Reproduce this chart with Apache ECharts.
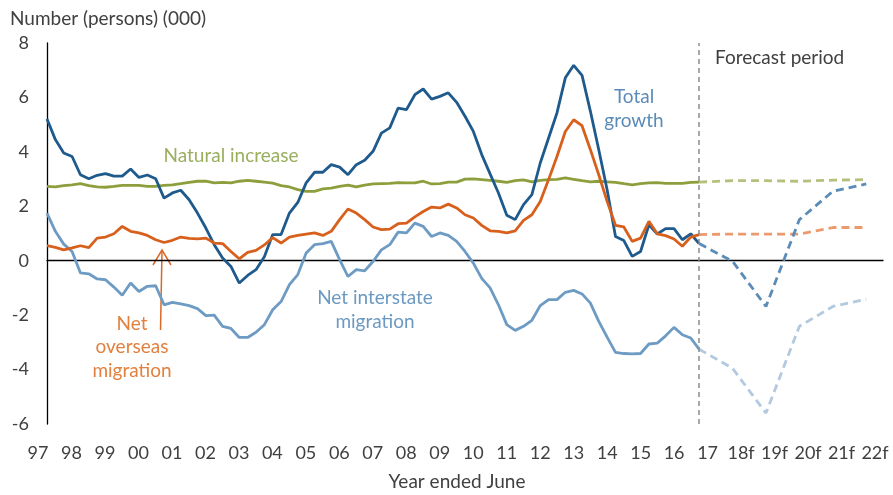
<!DOCTYPE html>
<html>
<head>
<meta charset="utf-8">
<title>Components of population growth</title>
<script src="https://cdn.jsdelivr.net/npm/echarts@6/dist/echarts.min.js"></script>
<style>
  html, body { margin: 0; padding: 0; background: #fff; }
  #chart { width: 893px; height: 495px; }
</style>
</head>
<body>
<div id="chart"></div>
<script>
// quarterly history up to year ended June 2017, '000 persons
const totalGrowth = [
  5.21, 4.45, 3.96, 3.83, 3.16, 3.01, 3.14, 3.20, 3.11, 3.11,
  3.37, 3.06, 3.15, 3.01, 2.30, 2.49, 2.59, 2.24, 1.75, 1.20,
  0.59, 0.10, -0.21, -0.82, -0.54, -0.33, 0.15, 0.96, 0.96, 1.75,
  2.14, 2.86, 3.25, 3.25, 3.53, 3.44, 3.16, 3.53, 3.69, 4.02,
  4.69, 4.88, 5.61, 5.55, 6.10, 6.31, 5.94, 6.04, 6.17, 5.82,
  5.31, 4.75, 3.90, 3.19, 2.49, 1.67, 1.51, 2.06, 2.43, 3.59,
  4.51, 5.43, 6.72, 7.18, 6.81, 5.49, 4.08, 2.61, 0.89, 0.74,
  0.16, 0.34, 1.32, 0.98, 1.18, 1.18, 0.77, 0.99, 0.63
];
const netOverseas = [
  0.55, 0.49, 0.40, 0.47, 0.55, 0.48, 0.83, 0.87, 0.99, 1.26,
  1.08, 1.02, 0.93, 0.77, 0.67, 0.75, 0.87, 0.82, 0.80, 0.83,
  0.65, 0.63, 0.34, 0.07, 0.31, 0.38, 0.58, 0.85, 0.65, 0.87,
  0.93, 0.98, 1.02, 0.93, 1.08, 1.51, 1.90, 1.75, 1.51, 1.24,
  1.14, 1.16, 1.36, 1.38, 1.61, 1.81, 1.97, 1.94, 2.08, 1.94,
  1.69, 1.57, 1.30, 1.10, 1.08, 1.02, 1.10, 1.48, 1.69, 2.18,
  2.98, 3.83, 4.75, 5.18, 4.96, 4.08, 3.16, 2.18, 1.30, 1.24,
  0.71, 0.83, 1.45, 0.99, 0.92, 0.80, 0.53, 0.87, 0.96
];
const naturalIncrease = [
  2.73, 2.71, 2.76, 2.79, 2.83, 2.76, 2.71, 2.70, 2.73, 2.77,
  2.77, 2.77, 2.73, 2.73, 2.77, 2.79, 2.83, 2.88, 2.92, 2.92,
  2.86, 2.88, 2.86, 2.92, 2.95, 2.92, 2.89, 2.85, 2.76, 2.71,
  2.61, 2.55, 2.55, 2.64, 2.67, 2.73, 2.78, 2.71, 2.78, 2.82,
  2.83, 2.84, 2.87, 2.86, 2.86, 2.92, 2.82, 2.83, 2.89, 2.89,
  3.00, 3.01, 2.98, 2.95, 2.92, 2.88, 2.94, 2.97, 2.90, 2.95,
  2.98, 2.99, 3.04, 2.99, 2.94, 2.90, 2.92, 2.90, 2.88, 2.83,
  2.79, 2.83, 2.86, 2.87, 2.84, 2.84, 2.84, 2.88, 2.89
];
const netInterstate = [
  1.75, 1.08, 0.61, 0.34, -0.45, -0.48, -0.67, -0.70, -0.97, -1.27,
  -0.82, -1.13, -0.94, -0.92, -1.62, -1.53, -1.59, -1.65, -1.76, -2.02,
  -2.00, -2.41, -2.49, -2.82, -2.82, -2.63, -2.35, -1.80, -1.50, -0.88,
  -0.51, 0.28, 0.59, 0.63, 0.71, 0.04, -0.58, -0.33, -0.37, -0.03,
  0.40, 0.59, 1.05, 1.02, 1.38, 1.26, 0.89, 1.02, 0.93, 0.71,
  0.34, -0.09, -0.65, -1.00, -1.62, -2.35, -2.56, -2.41, -2.19, -1.65,
  -1.43, -1.43, -1.16, -1.09, -1.22, -1.56, -2.23, -2.81, -3.37, -3.41,
  -3.42, -3.41, -3.06, -3.03, -2.76, -2.45, -2.72, -2.84, -3.25
];

// yearly forecasts, 17 to 22f
const forecastLabels = ['17', '18f', '19f', '20f', '21f', '22f'];
const totalForecast = [0.63, -0.02, -1.68, 1.51, 2.55, 2.82];
const overseasForecast = [0.96, 0.98, 0.98, 0.98, 1.22, 1.22];
const naturalForecast = [2.89, 2.94, 2.94, 2.92, 2.96, 2.98];
const interstateForecast = [-3.25, -3.95, -5.60, -2.41, -1.68, -1.41];

const yearLabels = ['97', '98', '99', '00', '01', '02', '03', '04', '05', '06',
  '07', '08', '09', '10', '11', '12', '13', '14', '15', '16',
  '17', '18f', '19f', '20f', '21f', '22f'];

// one slot per quarter, forecasts sit on every 4th slot
const FORECAST_START = totalGrowth.length - 1;
const SLOT_COUNT = FORECAST_START + 4 * (forecastLabels.length - 1) + 3;
const slots = [];
for (let i = 0; i < SLOT_COUNT; i++) slots.push(String(i));

function yearly(values) {
  return values.map((v, k) => [FORECAST_START + 4 * k, v]);
}

const FONT = 'Lato, "Open Sans", sans-serif';
const TXT = '#404040';

function solid(name, data, color) {
  return {
    name: name, type: 'line', data: data, symbol: 'none', silent: true,
    lineStyle: { color: color, width: 2.8 }
  };
}
function dashed(name, data, color) {
  return {
    name: name + ' forecast', type: 'line', data: yearly(data), symbol: 'none', silent: true,
    lineStyle: { color: color, width: 2.8, type: [8, 5] }
  };
}
function label(text, x, y, color, align, lh) {
  return {
    type: 'text', x: x, y: y, silent: true,
    style: {
      text: text, fill: color, font: '19px ' + FONT,
      align: align || 'center', verticalAlign: 'middle', lineHeight: lh || 24
    }
  };
}

const chart = echarts.init(document.getElementById('chart'));
chart.setOption({
  animation: false,
  grid: [
    { left: 47, right: 10, top: 43, bottom: 71 },
    { left: 38, right: 18, top: 43, bottom: 71 }
  ],
  xAxis: [
    {
      type: 'category', gridIndex: 0, data: slots, boundaryGap: false,
      axisLine: { onZero: true, lineStyle: { color: '#000', width: 1.3 } },
      axisTick: { show: false }, axisLabel: { show: false }, splitLine: { show: false }
    },
    {
      type: 'category', gridIndex: 1, data: yearLabels, boundaryGap: false,
      axisLine: { show: false }, axisTick: { show: false },
      axisLabel: { interval: 0, margin: 20, fontSize: 18, color: TXT, fontFamily: FONT }
    }
  ],
  yAxis: [
    {
      type: 'value', gridIndex: 0, min: -6, max: 8, interval: 2,
      axisLine: { show: true, lineStyle: { color: '#000', width: 1.3 } },
      axisTick: { show: false }, splitLine: { show: false },
      axisLabel: { margin: 18, fontSize: 18, color: TXT, fontFamily: FONT }
    },
    { type: 'value', gridIndex: 1, min: 0, max: 1, show: false }
  ],
  series: [
    solid('Net interstate migration', netInterstate, '#6d9bc3'),
    solid('Natural increase', naturalIncrease, '#8c9f3c'),
    solid('Total growth', totalGrowth, '#1f5a8c'),
    solid('Net overseas migration', netOverseas, '#d8601d'),
    dashed('Net interstate migration', interstateForecast, '#b2c9df'),
    dashed('Natural increase', naturalForecast, '#b4c07c'),
    dashed('Net overseas migration', overseasForecast, '#eb9a6e'),
    Object.assign(dashed('Total growth', totalForecast, '#5b8bb8'), {
      markLine: {
        silent: true, symbol: 'none', label: { show: false },
        lineStyle: { color: '#8c8c8c', width: 1.5, type: [5, 4] },
        data: [{ xAxis: FORECAST_START }]
      }
    })
  ],
  graphic: [
    label('Number (persons) (000)', 10, 19, TXT, 'left'),
    label('Year ended June', 457, 482, TXT),
    label('Forecast period', 715, 58, TXT, 'left'),
    label('Natural increase', 231, 156, '#9aae5e'),
    label('Total\ngrowth', 634, 109, '#5b8bb8'),
    label('Net interstate\nmigration', 375, 310, '#6b99c1'),
    label('Net\noverseas\nmigration', 132, 347, '#e2803f', 'center', 23.5),
    {
      type: 'line', silent: true,
      shape: { x1: 160.5, y1: 330, x2: 162, y2: 251 },
      style: { stroke: '#d9692a', lineWidth: 1.5 }
    },
    {
      type: 'polyline', silent: true,
      shape: { points: [[153, 265], [162, 250], [171, 265]] },
      style: { stroke: '#d9692a', lineWidth: 1.5, fill: null }
    }
  ]
});
</script>
</body>
</html>
